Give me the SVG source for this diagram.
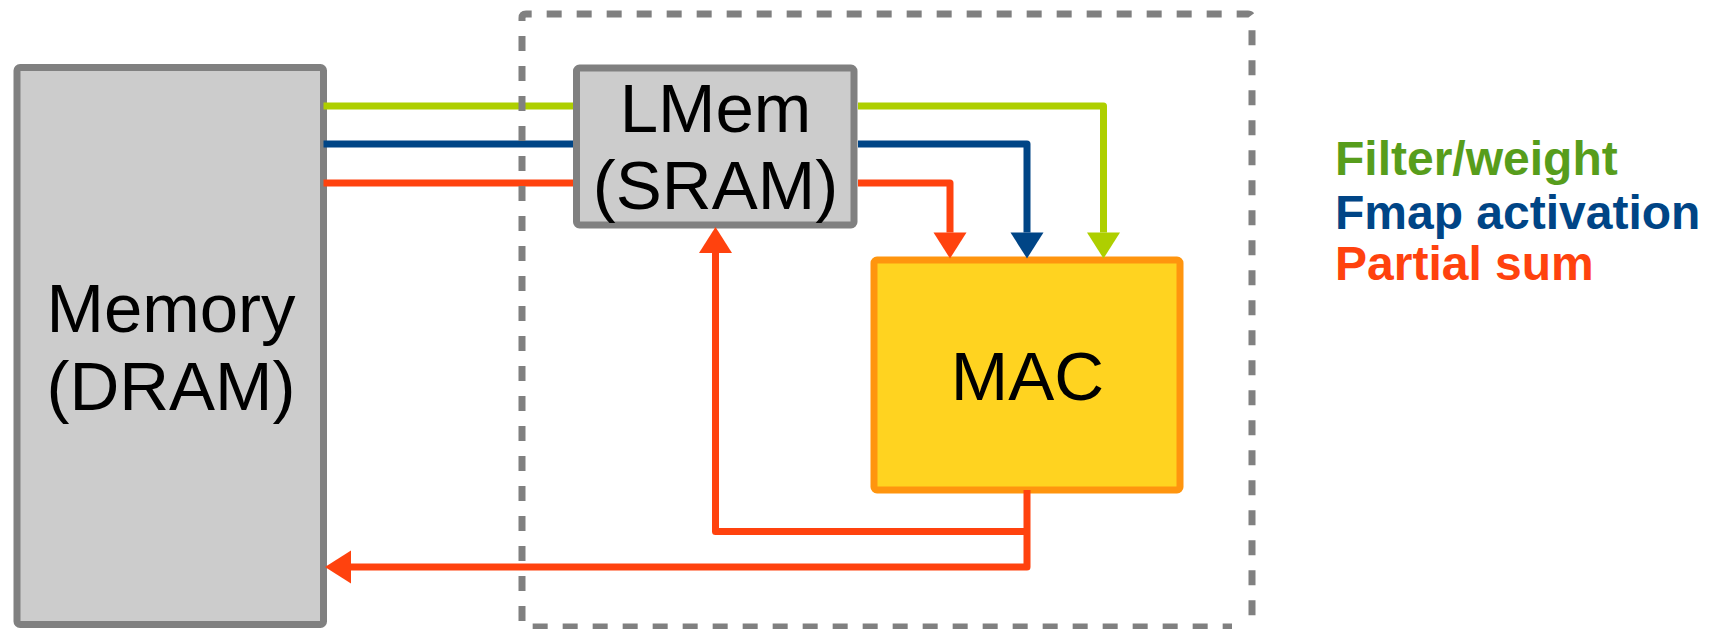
<svg xmlns="http://www.w3.org/2000/svg" width="1717" height="629" viewBox="0 0 1717 629">
<style>
.box-grey{fill:#cccccc;stroke:#808080;stroke-width:7}
.box-mac{fill:#ffd320;stroke:#ff950e;stroke-width:7}
.lbl{font-family:"Liberation Sans",Arial,sans-serif;font-size:69px;fill:#000;text-anchor:middle}
.leg{font-family:"Liberation Sans",Arial,sans-serif;font-size:48px;font-weight:bold}
.ln{fill:none;stroke-width:7;stroke-linejoin:round;stroke-linecap:butt}
.g{stroke:#aecf00}
.b{stroke:#004586}
.r{stroke:#ff420e}
.frame{fill:none;stroke:#808080;stroke-width:7;stroke-dasharray:15 15}
</style>
<defs>
<marker id="ag" markerUnits="userSpaceOnUse" markerWidth="26" markerHeight="33" refX="0" refY="16.5" orient="auto" overflow="visible"><path d="M0,0 L26,16.5 L0,33 z" fill="#aecf00"/></marker>
<marker id="ab" markerUnits="userSpaceOnUse" markerWidth="26" markerHeight="33" refX="0" refY="16.5" orient="auto" overflow="visible"><path d="M0,0 L26,16.5 L0,33 z" fill="#004586"/></marker>
<marker id="ar" markerUnits="userSpaceOnUse" markerWidth="26" markerHeight="33" refX="0" refY="16.5" orient="auto" overflow="visible"><path d="M0,0 L26,16.5 L0,33 z" fill="#ff420e"/></marker>
</defs>
<rect width="1717" height="629" fill="#ffffff"/>
<g id="memory">
<rect class="box-grey" x="17" y="67.5" width="306.5" height="557" rx="3"/>
<text class="lbl" x="171" y="332">Memory</text>
<text class="lbl" x="171" y="410">(DRAM)</text>
</g>
<g id="lmem">
<rect class="box-grey" x="576.5" y="68" width="277.5" height="157" rx="3"/>
<text class="lbl" x="715.5" y="132">LMem</text>
<text class="lbl" x="715.5" y="208.5">(SRAM)</text>
</g>
<g id="mac">
<rect class="box-mac" x="874" y="260" width="306" height="230" rx="3"/>
<text class="lbl" x="1027.5" y="399.5">MAC</text>
</g>
<g id="connectors">
<path class="ln g" d="M323.5,106 H573"/>
<path class="ln b" d="M323.5,144 H573"/>
<path class="ln r" d="M323.5,183 H573"/>
<path class="ln g" d="M858,106 H1103.5 V232.5" marker-end="url(#ag)"/>
<path class="ln b" d="M858,144 H1027 V232.5" marker-end="url(#ab)"/>
<path class="ln r" d="M858,183 H950 V232.5" marker-end="url(#ar)"/>
<path class="ln r" d="M1027,490 V567 H351" marker-end="url(#ar)"/>
<path class="ln r" d="M1027,531.5 H715.5 V253" marker-end="url(#ar)"/>
</g>
<g id="pe-frame">
<path class="frame" d="M522,21 V18 Q522,14 526,14 H1248 Q1252,14 1252,18 V623 Q1252,627 1248,627 M522,36 V623 Q522,627 526,627 H1232"/>
</g>
<g id="legend">
<text class="leg" x="1335" y="175" fill="#579d1c">Filter/weight</text>
<text class="leg" x="1335" y="228.5" fill="#004586">Fmap activation</text>
<text class="leg" x="1335" y="280" fill="#ff420e">Partial sum</text>
</g>
</svg>
